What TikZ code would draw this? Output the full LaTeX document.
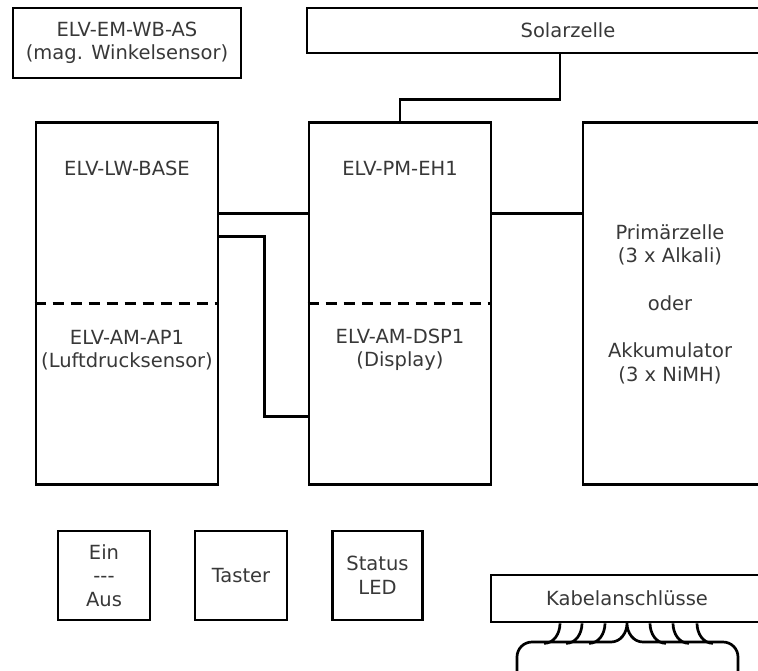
\documentclass[tikz,border=0pt]{standalone}
\usepackage{fontspec}
\setmainfont{DejaVu Sans}
\begin{document}
\begin{tikzpicture}[x=1pt,y=-1pt,line width=2.7pt,
    lbl/.style={text=black!78,align=center,inner sep=0pt,font=\fontsize{19.5}{23.5}\selectfont},
    box/.style={draw,lbl,minimum width=#1},
    divider/.style={dash pattern=on 11pt off 7pt}]

    \useasboundingbox (0,0) rectangle (758,670);

    \node[box=228pt,minimum height=70pt] (wbas) at (127,43) {ELV-EM-WB-AS\\(mag. Winkelsensor)};
    \node[box=522pt,minimum height=45pt] (sol) at (568,30.5) {Solarzelle};

    \node[box=182pt,minimum height=362pt] (lw) at (127,303.5) {};
    \node[box=182pt,minimum height=362pt] (pm) at (400,303.5) {};
    \node[box=182pt,minimum height=362pt] (akku) at (674,303.5) {};
    \draw[divider] (lw.west) -- (lw.east);
    \draw[divider] (pm.west) -- (pm.east);

    \node[lbl] (lwtop) at (127,168) {ELV-LW-BASE};
    \node[lbl] (lwbot) at (127,350) {ELV-AM-AP1\\(Luftdrucksensor)};
    \node[lbl] (pmtop) at (400,168) {ELV-PM-EH1};
    \node[lbl] (pmbot) at (400,350) {ELV-AM-DSP1\\(Display)};
    \node[lbl] (akkutxt) at (670,304) {Primärzelle\\(3 x Alkali)\\[24pt]oder\\[24pt]Akkumulator\\(3 x NiMH)};

    \coordinate (solx) at (560,0);
    \draw (sol.south -| solx) -- ++(0,45) -| (pm.north);
    \draw ([yshift=90pt]lw.east) -- ([yshift=90pt]pm.west);
    \draw ([yshift=67pt]lw.east) -- ++(45,0) |- ([yshift=-113pt]pm.west);
    \draw ([yshift=90pt]pm.east) -- ([yshift=90pt]akku.west);

    \node[box=92pt,minimum height=89pt] (ein) at (104,575.5) {Ein\\{-}{-}{-}\\Aus};
    \node[box=92pt,minimum height=89pt] (taster) at (241,575.5) {Taster};
    \node[box=90pt,minimum height=89pt] (led) at (377.5,575.5) {Status\\LED};

    \node[box=272pt,minimum height=47pt] (kab) at (627,598.5) {Kabelanschlüsse};

    \foreach \o in {-67,-45,-22}
        \draw ([xshift=\o pt]kab.south) to[out=-90,in=0] ++(-16,20);
    \foreach \o in {23,46,70}
        \draw ([xshift=\o pt]kab.south) to[out=-90,in=180] ++(16,20);
    \draw (517,685) -- (517,657) to[out=90,in=180] (532,642) -- (611,642)
        to[out=0,in=-90] (kab.south) to[out=-90,in=180] (643,642) -- (723,642)
        to[out=0,in=90] (738,657) -- (738,685);

\end{tikzpicture}
\end{document}
